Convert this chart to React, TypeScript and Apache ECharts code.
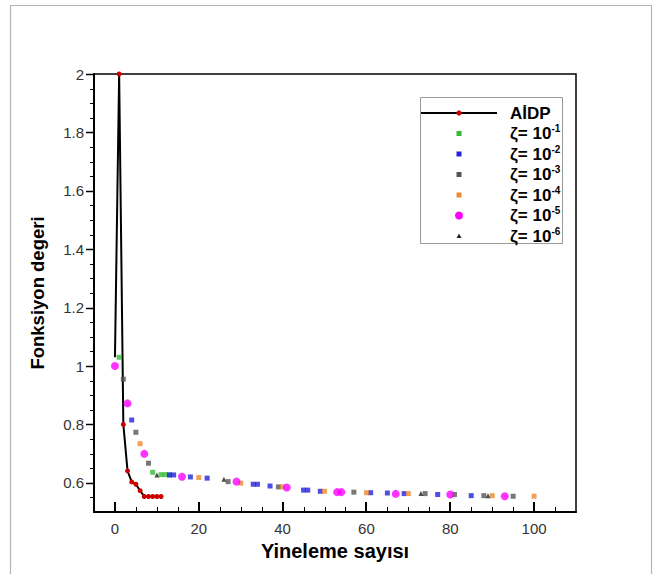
import React, { useEffect, useRef } from "react";
import * as echarts from "echarts";

const xTicks = [0, 20, 40, 60, 80, 100];
const yTicks = [0.6, 0.8, 1, 1.2, 1.4, 1.6, 1.8, 2];
const xRange = [-5, 110];
const yRange = [0.5, 2];
const minorPerMajor = 4;

const aidpX = [0, 1, 2, 3, 4, 5, 6, 7, 8, 9, 10, 11];
const aidpY = [1.03, 2.0, 0.8, 0.641, 0.603, 0.595, 0.573, 0.553, 0.553, 0.553, 0.553, 0.553];

const z1X = [1, 9, 11, 12, 13];
const z1Y = [1.03, 0.636, 0.628, 0.628, 0.627];
const z2X = [4, 13, 14, 18, 22, 33, 34, 37, 45, 46, 49, 61, 65, 69, 77, 85];
const z2Y = [0.815, 0.627, 0.627, 0.62, 0.616, 0.595, 0.595, 0.589, 0.575, 0.575, 0.571, 0.566, 0.565, 0.563, 0.56, 0.556];
const z3X = [2, 5, 8, 27, 39, 57, 74, 81, 88, 95];
const z3Y = [0.955, 0.773, 0.667, 0.604, 0.586, 0.568, 0.563, 0.56, 0.556, 0.554];
const z4X = [6, 20, 30, 40, 50, 60, 70, 90, 100];
const z4Y = [0.734, 0.618, 0.599, 0.586, 0.571, 0.566, 0.563, 0.556, 0.554];
const z5X = [0, 3, 7, 16, 29, 41, 53, 54, 67, 80, 93];
const z5Y = [1.0, 0.872, 0.699, 0.621, 0.604, 0.584, 0.568, 0.568, 0.562, 0.56, 0.554];
const z6X = [10, 26, 73, 89];
const z6Y = [0.627, 0.612, 0.563, 0.556];

const seriesNames = ["AİDP", "ζ= 10-1", "ζ= 10-2", "ζ= 10-3", "ζ= 10-4", "ζ= 10-5", "ζ= 10-6"];
const legendMain = ["AİDP", "ζ= 10", "ζ= 10", "ζ= 10", "ζ= 10", "ζ= 10", "ζ= 10"];
const legendExp = ["", "-1", "-2", "-3", "-4", "-5", "-6"];

const FONT = "'Liberation Sans', Arial, Helvetica, sans-serif";

const zip = (xs: number[], ys: number[]) => xs.map((x, i) => [x, ys[i]]);

const minorValues = (majors: number[], range: number[]) => {
  const step = (majors[1] - majors[0]) / minorPerMajor;
  const out: number[] = [];
  const start = Math.ceil((range[0] - majors[0]) / step - 1e-9);
  const end = Math.floor((range[1] - majors[0]) / step + 1e-9);
  for (let k = start; k <= end; k++) {
    const v = majors[0] + k * step;
    if (v > range[0] + 1e-9 && v < range[1] - 1e-9 && k % minorPerMajor !== 0) out.push(v);
  }
  return out;
};

const tickSeries = (values: number[], dim: "x" | "y", len: number, width: number) => ({
  type: "custom",
  silent: true,
  clip: false,
  z: 6,
  data: values.map((v) => (dim === "x" ? [v, yRange[0]] : [xRange[0], v])),
  renderItem: (_params: any, api: any) => {
    const p = api.coord([api.value(0), api.value(1)]);
    if (dim === "x") {
      const x = width % 2 === 1 ? Math.round(p[0]) + 0.5 : Math.round(p[0]);
      return { type: "line", shape: { x1: x, y1: p[1], x2: x, y2: p[1] - len }, style: { stroke: "#000", lineWidth: width } };
    }
    const y = Math.round(p[1]) + 0.5;
    return { type: "line", shape: { x1: p[0], y1: y, x2: p[0] - len, y2: y }, style: { stroke: "#000", lineWidth: width } };
  },
});

export default function App() {
  const ref = useRef<HTMLDivElement>(null);
  useEffect(() => {
    document.body.style.margin = "0";
    if (!ref.current) return;
    const chart = echarts.init(ref.current, null, { renderer: "svg" });

    const scatterDefs = [
      { xs: z1X, ys: z1Y, color: "#33bb33", symbol: "rect", size: 5 },
      { xs: z2X, ys: z2Y, color: "#2222dd", symbol: "rect", size: 5 },
      { xs: z3X, ys: z3Y, color: "#555555", symbol: "rect", size: 5 },
      { xs: z4X, ys: z4Y, color: "#ee8833", symbol: "rect", size: 5 },
      { xs: z5X, ys: z5Y, color: "#ff00ff", symbol: "circle", size: 8 },
      { xs: z6X, ys: z6Y, color: "#222222", symbol: "triangle", size: 5 },
    ];

    const legendTop = 113;
    const legendStep = 20.5;
    const legendEls: any[] = [
      {
        type: "rect",
        shape: { x: 420.5, y: 97.5, width: 142, height: 146 },
        style: { fill: "#fff", stroke: "#999", lineWidth: 1 },
        z: 100,
      },
      {
        type: "line",
        shape: { x1: 421, y1: legendTop, x2: 497, y2: legendTop },
        style: { stroke: "#000", lineWidth: 2 },
        z: 101,
      },
      {
        type: "circle",
        shape: { cx: 459, cy: legendTop, r: 2.6 },
        style: { fill: "#cc0000" },
        z: 102,
      },
    ];
    scatterDefs.forEach((d, i) => {
      const cy = legendTop + (i + 1) * legendStep;
      if (d.symbol === "circle") {
        legendEls.push({ type: "circle", shape: { cx: 459, cy, r: 4 }, style: { fill: d.color }, z: 102 });
      } else if (d.symbol === "triangle") {
        legendEls.push({
          type: "polygon",
          shape: { points: [[459, cy - 2.5], [461.5, cy + 2], [456.5, cy + 2]] },
          style: { fill: d.color },
          z: 102,
        });
      } else {
        legendEls.push({ type: "rect", shape: { x: 456.5, y: cy - 2.5, width: 5, height: 5 }, style: { fill: d.color }, z: 102 });
      }
    });
    legendMain.forEach((t, i) => {
      const cy = legendTop + i * legendStep;
      const text = legendExp[i] ? `{m|${t}}{s|${legendExp[i]}}` : `{m|${t}}`;
      legendEls.push({
        type: "text",
        x: 510,
        y: cy,
        z: 102,
        style: {
          text,
          verticalAlign: "middle",
          align: "left",
          rich: {
            m: { fontFamily: FONT, fontWeight: "bold", fontSize: 17, fill: "#000", lineHeight: 20, verticalAlign: "middle" },
            s: { fontFamily: FONT, fontWeight: "bold", fontSize: 10, fill: "#000", lineHeight: 20, verticalAlign: "top" },
          },
        },
      });
    });

    const frame = {
      type: "rect",
      shape: { x: 10.5, y: 5.5, width: 641, height: 620 },
      style: { fill: "none", stroke: "#b5b5b5", lineWidth: 1.2 },
      z: 0,
    };

    const option: any = {
      animation: false,
      backgroundColor: "#fff",
      textStyle: { fontFamily: FONT },
      grid: {
        left: 94,
        top: 74,
        right: 84,
        bottom: 62,
        show: true,
        borderColor: "#000",
        borderWidth: 1.5,
        backgroundColor: "transparent",
      },
      xAxis: {
        type: "value",
        min: xRange[0],
        max: xRange[1],
        splitNumber: 5,
        position: "bottom",
        name: "Yineleme sayısı",
        nameLocation: "middle",
        nameGap: 26,
        nameTextStyle: { fontFamily: FONT, fontWeight: "bold", fontSize: 20, color: "#000" },
        axisLine: { show: true, onZero: false, lineStyle: { color: "#000", width: 2 } },
        axisTick: { show: false },
        axisLabel: { show: true, customValues: xTicks, margin: 9, fontSize: 15, color: "#333", fontFamily: FONT },
        splitLine: { show: false },
      },
      yAxis: {
        type: "value",
        min: yRange[0],
        max: yRange[1],
        splitNumber: 7,
        position: "left",
        name: "Fonksiyon degeri",
        nameLocation: "middle",
        nameGap: 47,
        nameTextStyle: { fontFamily: FONT, fontWeight: "bold", fontSize: 18.5, color: "#000" },
        axisLine: { show: true, onZero: false, lineStyle: { color: "#000", width: 2 } },
        axisTick: { show: false },
        axisLabel: { show: true, customValues: yTicks, margin: 10, fontSize: 15, color: "#333", fontFamily: FONT },
        splitLine: { show: false },
      },
      series: [
        {
          name: seriesNames[0],
          type: "line",
          data: zip(aidpX, aidpY).map((v, i) => (i === 0 ? { value: v, symbol: "none" } : v)),
          symbol: "circle",
          symbolSize: 5,
          showAllSymbol: true,
          lineStyle: { color: "#000", width: 2 },
          itemStyle: { color: "#cc0000" },
          z: 3,
        },
        ...scatterDefs.map((d, i) => ({
          name: seriesNames[i + 1],
          type: "scatter",
          data: zip(d.xs, d.ys),
          symbol: d.symbol,
          symbolSize: d.size,
          itemStyle: { color: d.color },
          z: 4,
        })),
        tickSeries(xTicks, "x", 10, 2),
        tickSeries(minorValues(xTicks, xRange), "x", 5, 1),
        tickSeries(yTicks, "y", 8, 1.5),
        tickSeries(minorValues(yTicks, yRange), "y", 4, 1),
      ],
      graphic: [frame, ...legendEls],
    };
    chart.setOption(option);

    return () => chart.dispose();
  }, []);
  return <div ref={ref} style={{ width: 660, height: 574 }} />;
}
